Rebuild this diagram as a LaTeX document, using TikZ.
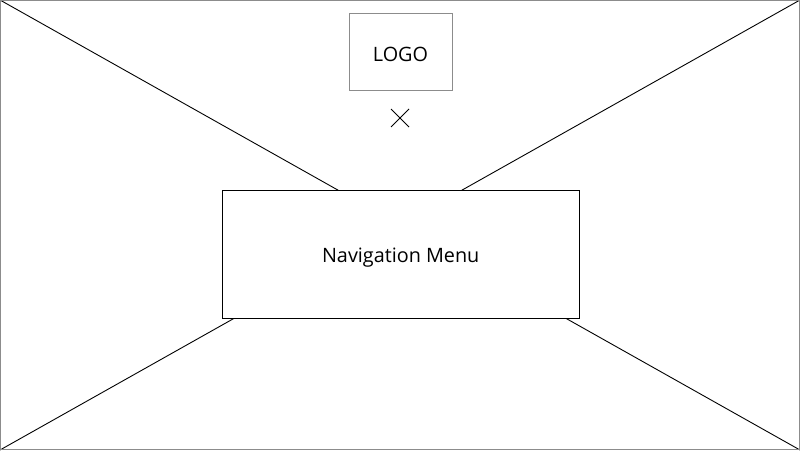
\documentclass[tikz,border=0pt]{standalone}
\usepackage{fontspec}
\setmainfont{Open Sans}
\begin{document}
\begin{tikzpicture}[x=1pt,y=-1pt,
  frame/.style={draw=black!45,line width=1pt},
  diag/.style={draw=black,line width=0.9pt},
  box/.style={draw=black,line width=0.9pt,fill=white,inner sep=0pt,anchor=north west},
  logobox/.style={draw=black!45,line width=0.9pt,fill=white,inner sep=0pt,anchor=north west},
  lbl/.style={font=\fontsize{19.8}{22}\selectfont}]
\useasboundingbox (0,0) rectangle (800,450);
\fill[white] (0,0) rectangle (800,450);
\coordinate (tl) at (0,0);
\coordinate (tr) at (800,0);
\coordinate (bl) at (0,450);
\coordinate (br) at (800,450);
\draw[diag] (tl) -- (br);
\draw[diag] (tr) -- (bl);
\node[box,minimum width=357.5pt,minimum height=127.5pt] (nav) at (221.5,190) {};
\node[lbl] at ([yshift=-3pt]nav.center) {Navigation Menu};
\node[logobox,minimum width=103pt,minimum height=77pt] (logo) at (348.5,12.5) {};
\node[lbl] at ([yshift=-2.5pt]logo.center) {LOGO};
\coordinate (x1) at (391,109);
\coordinate (x2) at (409,127);
\coordinate (x3) at (409,109);
\coordinate (x4) at (391,127);
\draw[line width=1pt] (x1) -- (x2) (x3) -- (x4);
\draw[frame] (0.5,0.5) rectangle (799.5,449.5);
\end{tikzpicture}
\end{document}
